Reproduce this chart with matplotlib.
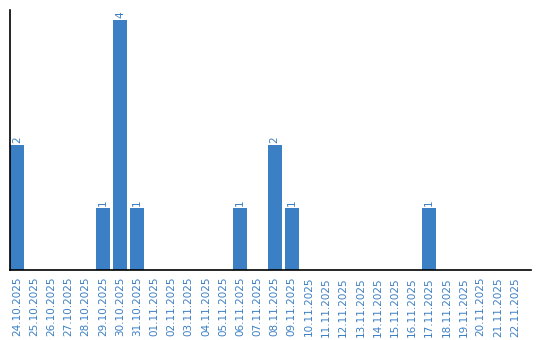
import matplotlib
matplotlib.use("Agg")
import matplotlib.pyplot as plt
import pandas as pd

dates = pd.date_range("2025-10-24", "2025-11-22").strftime("%d.%m.%Y").tolist()
counts = {"24.10.2025": 2, "29.10.2025": 1, "30.10.2025": 4, "31.10.2025": 1,
          "06.11.2025": 1, "08.11.2025": 2, "09.11.2025": 1, "17.11.2025": 1}
values = [counts.get(d, 0) for d in dates]

blue = "#3b7fc4"

fig = plt.figure(figsize=(5.4, 3.4), dpi=100)
ax = fig.add_axes([10 / 540, 70 / 340, 521 / 540, 260 / 340])

x = range(len(dates))
bars = ax.bar(x, values, width=0.82, color=blue)
for i, v in enumerate(values):
    if v > 0:
        ax.text(i, v + 0.03, str(v), rotation=90, ha="center", va="bottom",
                color=blue, fontsize=7.5)

ax.set_xlim(-0.41, 29.93)
ax.set_ylim(0, 4.16)
ax.set_xticks(list(x))
ax.set_xticklabels(dates, rotation=90, color=blue, fontsize=7.5)
ax.tick_params(axis="x", length=0, pad=5)
ax.set_yticks([])
ax.spines["top"].set_visible(False)
ax.spines["right"].set_visible(False)
ax.spines["left"].set_linewidth(1.2)
ax.spines["bottom"].set_linewidth(1.2)

fig.savefig("out.png", dpi=100)
